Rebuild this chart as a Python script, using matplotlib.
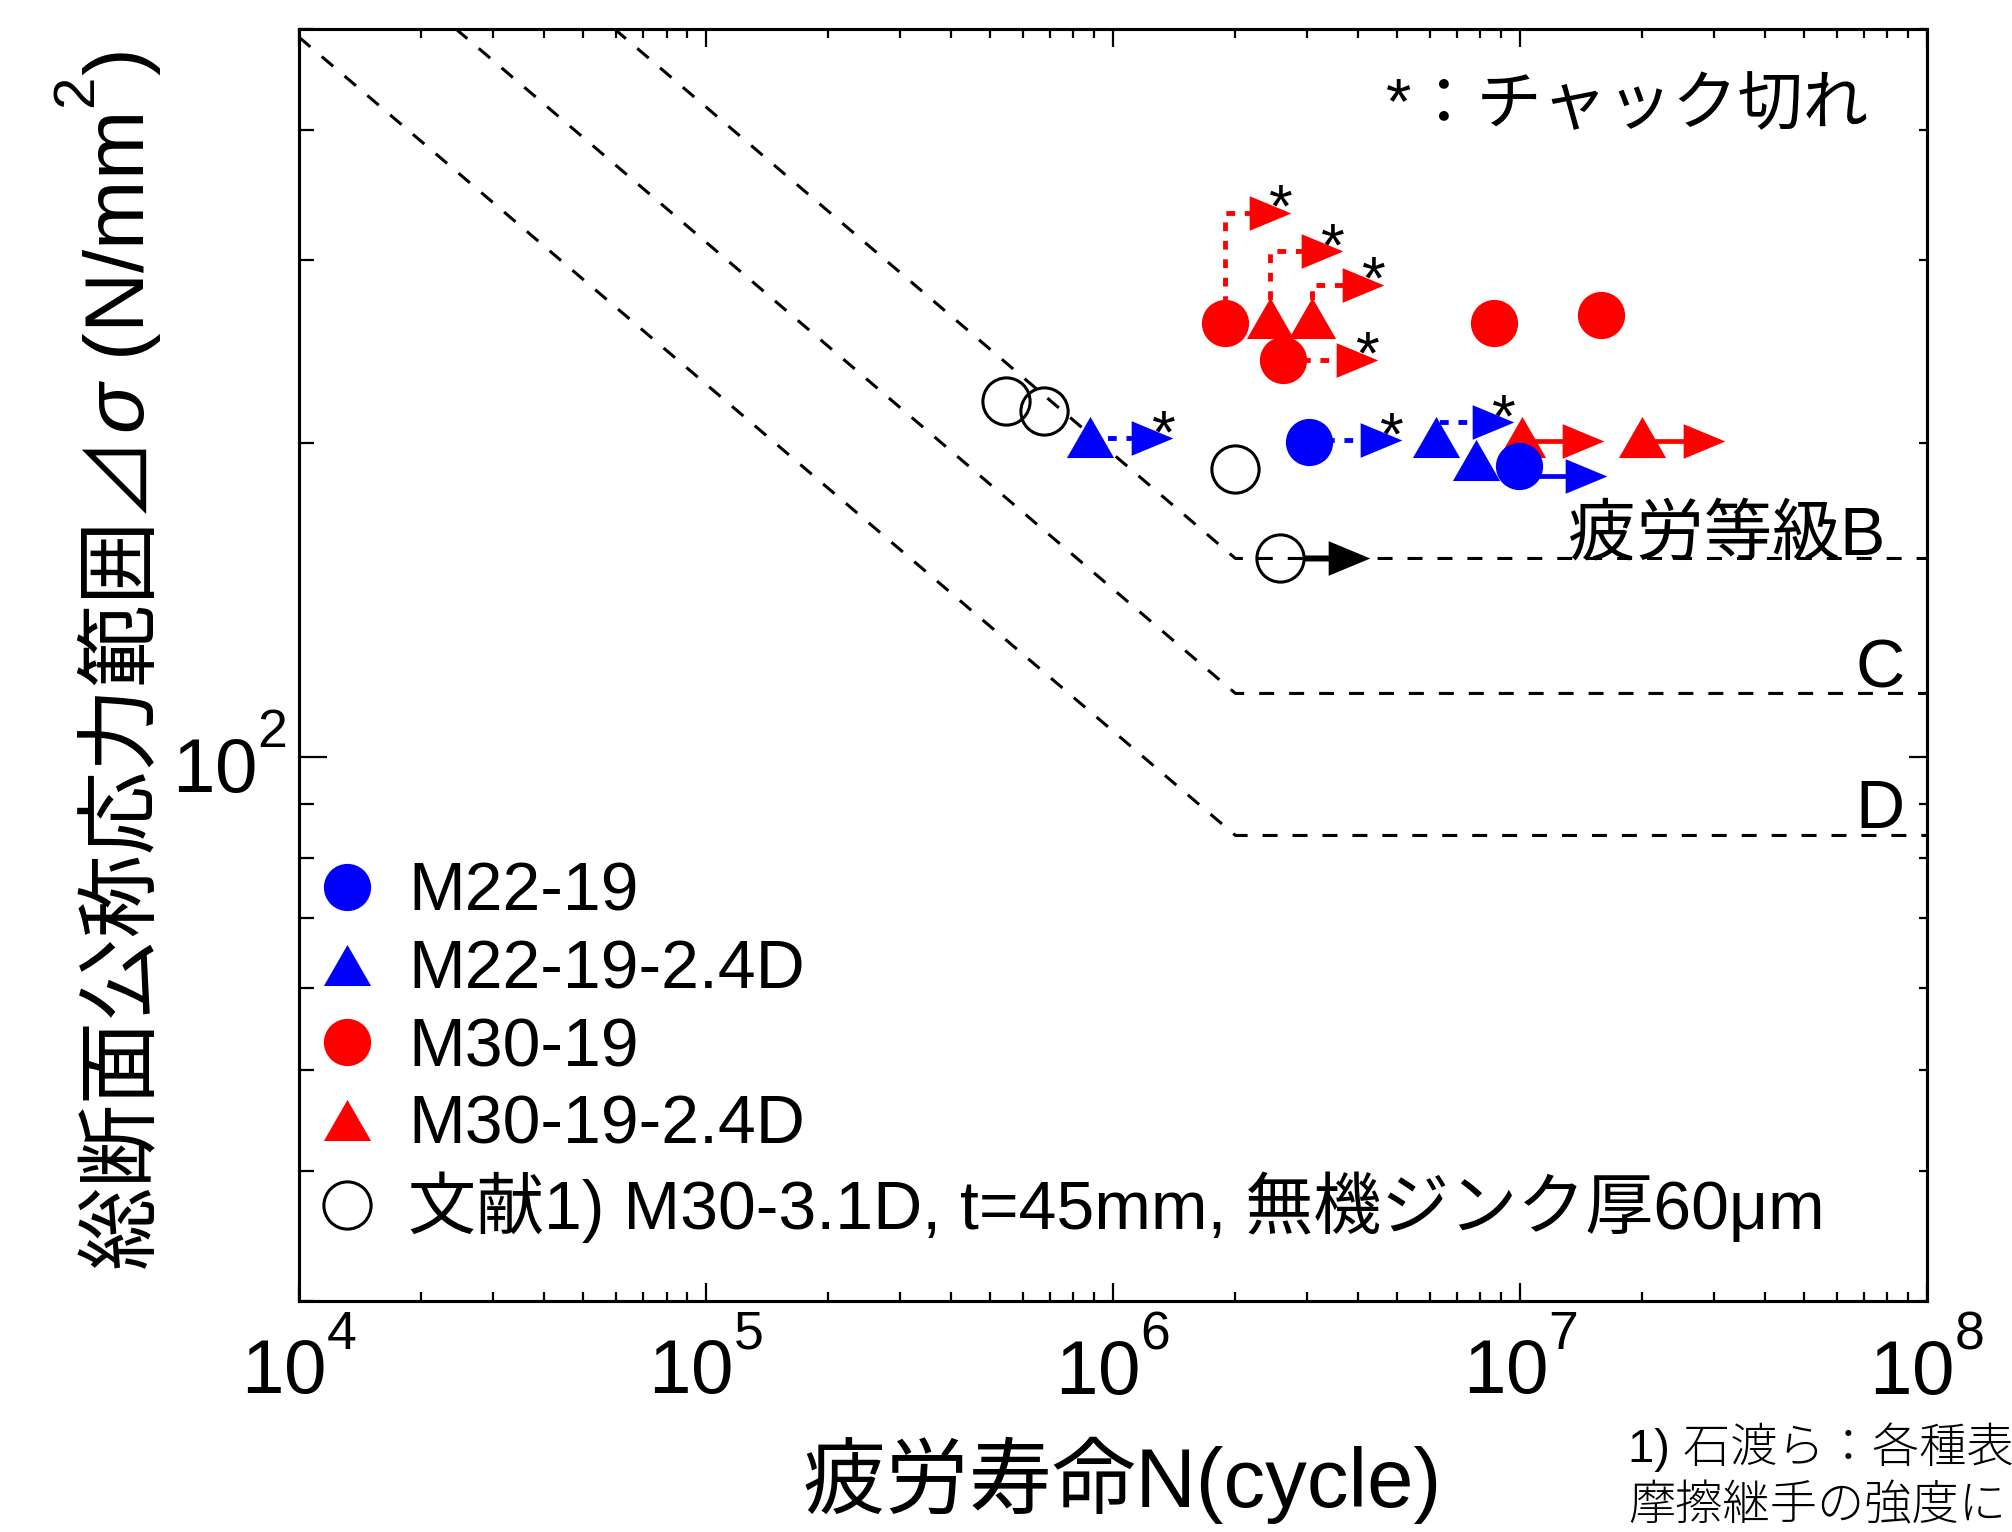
import matplotlib
matplotlib.use('Agg')
import matplotlib.pyplot as plt
import numpy as np
from matplotlib.ticker import LogLocator, NullFormatter

plt.rcParams['font.family'] = ['Liberation Sans', 'Noto Sans CJK JP', 'DejaVu Sans']
plt.rcParams['mathtext.fontset'] = 'custom'
plt.rcParams['mathtext.rm'] = 'Liberation Sans'
plt.rcParams['mathtext.it'] = 'Liberation Sans:italic'
plt.rcParams['mathtext.bf'] = 'Liberation Sans:bold'
try:  # raise superscripts a little, as in the reference
    import matplotlib._mathtext as _mt
    _mt.FontConstantsBase.sup1 = 1.12
except Exception:
    pass

# ---------------- data ----------------
m22_N = [3.04e6, 9.94e6]
m22_S = [200.6, 190.2]
m22d_N = [8.80e5, 6.21e6, 7.78e6]
m22d_S = [202.9, 203.0, 192.7]
m30_N = [1.88e6, 2.62e6, 8.65e6, 1.58e7]
m30_S = [260.7, 240.4, 261.0, 265.7]
m30d_N = [2.43e6, 3.08e6, 1.01e7, 2.00e7]
m30d_S = [263.8, 263.8, 203.0, 203.0]
ref_N = [5.46e5, 6.78e5, 1.99e6, 2.58e6]
ref_S = [219.6, 214.8, 188.8, 155.0]

# run-out arrows (not failed)
runout_series = ['m30', 'm30d', 'm30d', 'm30', 'm30d', 'm30d', 'm22d', 'm22', 'm22d', 'm22', 'ref']
runout_index = [0, 0, 1, 1, 2, 3, 0, 0, 1, 1, 3]
runout_end_N = [2.43e6, 3.26e6, 4.11e6, 3.98e6, 1.43e7, 2.84e7, 1.25e6, 4.55e6, 8.58e6, 1.45e7, 3.80e6]
runout_end_S = [332.8, 305.9, 284.0, 240.4, 201.0, 201.0, 202.2, 201.3, 209.5, 185.9, 155.0]
runout_chuck = [True, True, True, True, False, False, True, True, True, False, False]

# JSSC fatigue design curves
class_names = ['B', 'C', 'D']
curve_N = [[5.96e4, 2e6, 1e8], [2.43e4, 2e6, 1e8], [1.0e4, 2e6, 1e8]]
curve_S = [[500, 155, 155], [500, 115, 115], [491, 84, 84]]

labels = ['M22-19', 'M22-19-2.4D', 'M30-19', 'M30-19-2.4D',
          '文献1) M30-3.1D, t=45mm, 無機ジンク厚60μm']

# ---------------- styles ----------------
RED = '#ff0000'
BLUE = '#0000ff'
tri_up = [(-1, -0.87), (1, -0.87), (0, 0.87), (-1, -0.87)]
tri_right = [(-1, -0.83), (1, 0), (-1, 0.83), (-1, -0.83)]
MS_C = 34
MS_T = 34
MS_H = 30

series = {
    'm22': (m22_N, m22_S, BLUE, 'o'),
    'm22d': (m22d_N, m22d_S, BLUE, tri_up),
    'm30': (m30_N, m30_S, RED, 'o'),
    'm30d': (m30d_N, m30d_S, RED, tri_up),
    'ref': (ref_N, ref_S, 'black', 'o'),
}

fig = plt.figure(figsize=(20.12, 15.32), dpi=100)
ax = fig.add_axes([0.1486, 0.1508, 0.8091, 0.8303])
ax.set_xscale('log')
ax.set_yscale('log')
ax.set_xlim(1e4, 1e8)
ax.set_ylim(30, 500)

# fatigue design curves
for cn, cs in zip(curve_N, curve_S):
    ax.plot(cn, cs, color='black', lw=2.2, ls=(0, (4.9, 4.9)), zorder=1)

# run-out arrows
for ser, idx, n1, s1, ch in zip(runout_series, runout_index, runout_end_N,
                                runout_end_S, runout_chuck):
    sN, sS, col, _ = series[ser]
    n0, s0 = sN[idx], sS[idx]
    if ser == 'ref':
        ax.annotate('', xy=(n1, s1), xytext=(n0, s0),
                    arrowprops=dict(arrowstyle='-', lw=4.3, color=col,
                                    shrinkA=18, shrinkB=0), zorder=2)
    else:
        ls = (0, (1.8, 2.0)) if ch else '-'
        lw = 3.5 if ch else 3.4
        ax.plot([n0, n0, n1], [s0, s1, s1], color=col, lw=lw, ls=ls, zorder=2,
                solid_capstyle='butt', dash_capstyle='butt')
    ax.plot([n1], [s1], ls='none', marker=tri_right, ms=MS_H, color=col,
            mew=0, zorder=3)
    if ch:
        ax.annotate('*', xy=(n1, s1), xytext=(8, -10), textcoords='offset points',
                    ha='center', va='baseline', fontsize=44, zorder=5)

# data markers
h_m30d, = ax.plot(m30d_N, m30d_S, ls='none', marker=tri_up, ms=MS_T, color=RED,
                  mew=0, zorder=4)
h_m30, = ax.plot(m30_N, m30_S, ls='none', marker='o', ms=MS_C, color=RED,
                 mew=0, zorder=4)
h_m22d, = ax.plot(m22d_N, m22d_S, ls='none', marker=tri_up, ms=MS_T, color=BLUE,
                  mew=0, zorder=4)
h_m22, = ax.plot(m22_N, m22_S, ls='none', marker='o', ms=MS_C, color=BLUE,
                 mew=0, zorder=4)
h_ref, = ax.plot(ref_N, ref_S, ls='none', marker='o', ms=MS_C, mfc='none',
                 mec='black', mew=2.2, zorder=4)

# ticks
ax.xaxis.set_major_locator(LogLocator(base=10, numticks=20))
ax.xaxis.set_minor_locator(LogLocator(base=10, subs=np.arange(2, 10), numticks=50))
ax.xaxis.set_minor_formatter(NullFormatter())
ax.yaxis.set_major_locator(LogLocator(base=10, numticks=20))
ax.yaxis.set_minor_locator(LogLocator(base=10, subs=np.arange(2, 10), numticks=50))
ax.yaxis.set_minor_formatter(NullFormatter())
ax.tick_params(axis='x', which='both', direction='in', top=True, bottom=True,
               width=1.6, labelsize=55)
ax.tick_params(axis='x', which='major', length=13, pad=16)
ax.tick_params(axis='x', which='minor', length=6.5)
ax.tick_params(axis='y', which='both', direction='in', left=True, right=False,
               width=1.6, labelsize=55)
ax.tick_params(axis='y', which='major', length=20, pad=9)
ax.tick_params(axis='y', which='minor', length=10.8)
for sp in ax.spines.values():
    sp.set_linewidth(2.2)

ax2 = ax.twinx()
ax2.set_yscale('log')
ax2.set_ylim(30, 500)
ax2.yaxis.set_major_locator(LogLocator(base=10, numticks=20))
ax2.yaxis.set_minor_locator(LogLocator(base=10, subs=np.arange(2, 10), numticks=50))
ax2.yaxis.set_minor_formatter(NullFormatter())
ax2.tick_params(axis='y', which='both', direction='in', labelright=False, width=1.6)
ax2.tick_params(axis='y', which='major', length=13)
ax2.tick_params(axis='y', which='minor', length=6)
for sp in ax2.spines.values():
    sp.set_linewidth(2.2)

# legend
leg = ax.legend([h_m22, h_m22d, h_m30, h_m30d, h_ref], labels, loc='lower left',
                bbox_to_anchor=(0.0092, 0.0456), frameon=False, fontsize=49,
                handlelength=0.98, handletextpad=0.4, borderpad=0,
                borderaxespad=0, labelspacing=0.2, numpoints=1)
leg.set_zorder(6)

# class labels and notes
ax.text(0.9742, 0.5865, '疲労等級B', transform=ax.transAxes, ha='right',
        va='baseline', fontsize=49)
ax.text(0.9865, 0.4819, 'C', transform=ax.transAxes, ha='right',
        va='baseline', fontsize=49)
ax.text(0.9865, 0.3719, 'D', transform=ax.transAxes, ha='right',
        va='baseline', fontsize=49)
ax.text(0.9638, 0.9253, '*：チャック切れ', transform=ax.transAxes, ha='right',
        va='baseline', fontsize=47)

# axis labels
ax.set_xlabel('疲労寿命N(cycle)', fontsize=60, va='baseline', ha='center')
ax.xaxis.set_label_coords(0.5055, -0.162)

ax.set_ylabel('総断面公称応力範囲⊿', fontsize=60, ha='left', va='baseline',
              rotation=90, rotation_mode='anchor')
ylx, yly = -0.0946, 0.0259
ax.yaxis.set_label_coords(ylx, yly)

fig.canvas.draw()
bb = ax.yaxis.label.get_window_extent(renderer=fig.canvas.get_renderer())
ax.text(ylx, yly + bb.height / ax.bbox.height, r'$σ$ (N/m$\mathdefault{m}^{2}$)',
        transform=ax.transAxes, rotation=90, rotation_mode='anchor', ha='left',
        va='baseline', fontsize=60, clip_on=False)

# footnote (cut by the figure edge)
fig.text(1628 / 2012, 1 - 1462 / 1532, '1) 石渡ら：各種表', ha='left',
         va='baseline', fontsize=34, fontweight='light')
fig.text(1628 / 2012, 1 - 1519 / 1532, '摩擦継手の強度に', ha='left',
         va='baseline', fontsize=34, fontweight='light')

fig.savefig('out.png', dpi=100)
